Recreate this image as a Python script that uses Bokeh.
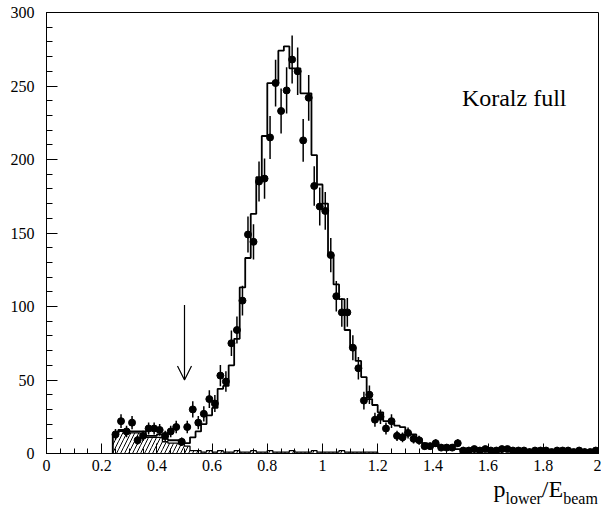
import numpy as np
from bokeh.plotting import figure
from bokeh.models import Range1d, FixedTicker, Label, Arrow, OpenHead, LinearAxis
from bokeh.embed import file_html
from bokeh.resources import INLINE

# ---------------- data ----------------
bin_width = 0.02

# measured data points (bin centres start at 0.25)
data_start = 0.24
data_counts = [13, 22, 15, 21, 9, 12, 17, 17, 16, 12, 15, 18, 8,
               18, 30, 21, 27, 37, 34, 53, 49, 75, 84, 104, 149, 144, 185, 187, 215,
               252, 233, 247, 268, 260, 213, 242, 182, 168,
               165, 135, 107, 96, 96, 72, 58, 36, 40, 23, 25, 17, 22, 12, 11, 14, 10,
               9, 5, 5, 7, 4, 4, 4, 7,
               2, 2, 3, 2, 3, 2, 2, 3, 3, 2, 2, 2, 1, 2, 2, 2, 1, 2, 2, 2, 1, 2, 1, 1, 2]

# full Koralz Monte Carlo histogram (bins start at 0.24)
mc_start = 0.24
mc_counts = [13, 16, 16, 15, 15, 15, 12, 12, 13, 10, 9, 9,
             7, 7, 11, 15, 20, 26, 31, 44, 46, 60, 78, 113,
             133, 163, 188, 216, 252, 252, 274, 277, 262, 262, 245, 245,
             203, 183, 170, 135, 115, 105, 84, 72, 63, 52, 37, 33,
             28, 22, 21, 19, 18, 14, 13, 10, 7, 6, 5, 4, 4, 3, 3]

# background histogram (hatched)
bkg_start = 0.24
bkg_counts = [13, 15, 15, 14, 14, 13, 11, 11, 11, 8, 7, 7,
              6, 5, 2, 2, 1, 2, 1, 2, 1, 1, 2, 1,
              1, 2, 1, 1, 2, 1, 1, 1, 2, 1, 1, 1,
              2, 1, 1, 1, 1, 2, 1, 1, 1, 1, 1, 1]

x_ticks = [0.0, 0.2, 0.4, 0.6, 0.8, 1.0, 1.2, 1.4, 1.6, 1.8, 2.0]
x_tick_labels = ["0", "0.2", "0.4", "0.6", "0.8", "1", "1.2", "1.4", "1.6", "1.8", "2"]
y_ticks = [0, 50, 100, 150, 200, 250, 300]
y_tick_labels = ["0", "50", "100", "150", "200", "250", "300"]

cut_x = 0.5
annotation_text = "Koralz full"
# x-axis title  p_lower / E_beam : main pieces and subscript pieces
xlabel_main = ["p", "/E"]
xlabel_main_at = [1.641, 1.833]
xlabel_sub = ["lower", "beam"]
xlabel_sub_at = [1.729, 1.935]

# ---------------- helpers ----------------
def outline(start, width, vals):
    vals = np.asarray(vals, dtype=float)
    edges = start + width * np.arange(len(vals) + 1)
    xs = np.repeat(edges, 2)
    ys = np.concatenate([[0.0], np.repeat(vals, 2), [0.0]])
    return xs, ys

FONT = "Liberation Serif"

p = figure(width=601, height=512, output_backend="svg", toolbar_location=None,
           x_range=Range1d(0, 2), y_range=Range1d(0, 300),
           min_border_left=46, min_border_right=3, min_border_top=12, min_border_bottom=59)
p.xgrid.visible = False
p.ygrid.visible = False
p.outline_line_color = "black"
p.outline_line_width = 1
p.background_fill_color = "white"
p.border_fill_color = "white"

# background hatched histogram
bkg = np.asarray(bkg_counts, dtype=float)
bkg_left = bkg_start + bin_width * np.arange(len(bkg))
p.quad(left=bkg_left, right=bkg_left + bin_width, bottom=0, top=bkg,
       fill_color=None, line_color=None, hatch_pattern="/", hatch_color="black",
       hatch_scale=8, hatch_weight=1)
bx, by = outline(bkg_start, bin_width, bkg_counts)
p.line(bx, by, line_color="black", line_width=1.3)

# MC histogram outline
mx, my = outline(mc_start, bin_width, mc_counts)
p.line(mx, my, line_color="black", line_width=1.8)

# data points with error bars
dc = np.asarray(data_counts, dtype=float)
dx = data_start + bin_width * (np.arange(len(dc)) + 0.5)
err = np.sqrt(dc)
p.segment(x0=dx, y0=dc - err, x1=dx, y1=dc + err, line_color="black", line_width=1.5)
p.scatter(dx, dc, size=7, fill_color="black", line_color="black")

# cut arrow
p.add_layout(Arrow(x_start=cut_x, y_start=101, x_end=cut_x, y_end=50,
                   line_color="black", line_width=1.2,
                   end=OpenHead(size=14, line_color="black", line_width=1.2)))

# text
p.add_layout(Label(x=1.505, y=242, text=annotation_text, text_font=FONT,
                   text_font_size="24px", text_baseline="middle", text_color="black"))

# axes
xa = p.xaxis[0]
xa.ticker = FixedTicker(ticks=x_ticks,
                        minor_ticks=[round(0.05 * i, 2) for i in range(41)])
xa.major_label_overrides = {t: l for t, l in zip(x_ticks, x_tick_labels)}
ya = p.yaxis[0]
ya.ticker = FixedTicker(ticks=y_ticks, minor_ticks=list(range(0, 301, 10)))
ya.major_label_overrides = {t: l for t, l in zip(y_ticks, y_tick_labels)}

for ax in (xa, ya):
    ax.axis_line_color = "black"
    ax.major_tick_line_color = "black"
    ax.minor_tick_line_color = "black"
    ax.major_tick_out = 0
    ax.minor_tick_out = 0
    ax.major_label_text_font = FONT
    ax.major_label_text_font_size = "16px"
    ax.major_label_text_color = "black"
xa.major_tick_in = 10
xa.minor_tick_in = 5
xa.major_label_standoff = 6
ya.major_tick_in = 11
ya.minor_tick_in = 6
ya.major_label_standoff = 12

# x-axis title built from two label-only axes (main text + subscripts)
def label_axis(ticks, labels, size, standoff):
    ax = LinearAxis(ticker=FixedTicker(ticks=ticks, minor_ticks=[]),
                    major_label_overrides={t: l for t, l in zip(ticks, labels)},
                    axis_line_color=None, major_tick_line_color=None,
                    minor_tick_line_color=None, major_tick_in=0, major_tick_out=0,
                    minor_tick_in=0, minor_tick_out=0,
                    major_label_standoff=standoff,
                    major_label_text_font=FONT, major_label_text_font_size=size,
                    major_label_text_color="black")
    return ax

p.add_layout(label_axis(xlabel_main_at, xlabel_main, "24px", 2), "below")
p.add_layout(label_axis(xlabel_sub_at, xlabel_sub, "16px", -15), "below")

open("out.html", "w").write(file_html(p, INLINE))
